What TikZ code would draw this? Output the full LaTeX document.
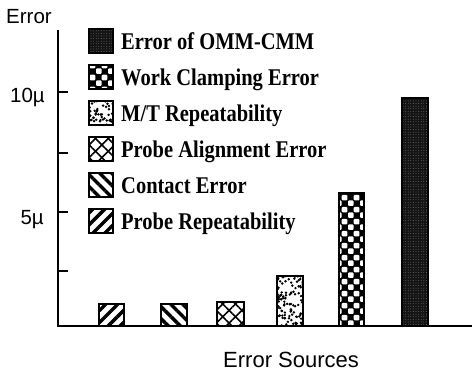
\documentclass[tikz,border=0pt]{standalone}
\usepackage{fontspec}
\setmainfont{Liberation Serif}
\setsansfont{Liberation Sans}
\usetikzlibrary{patterns.meta}

% chequerboard tile: white squares touching at the corners
\tikzdeclarepattern{
  name=chequer,
  type=uncolored,
  bottom left={(0pt,0pt)},
  top right={(12pt,12pt)},
  tile size={(12pt,12pt)},
  code={
    \fill[rounded corners=1.1pt] (0pt,0pt) rectangle (6pt,6pt);
    \fill[rounded corners=1.1pt] (6pt,6pt) rectangle (12pt,12pt);
  }
}

% random black speckles inside a rectangle (x1,y1,x2,y2)
\newcommand\mtspeckle[4]{%
  \begin{scope}
    \clip (#1,#2) rectangle (#3,#4);
    \pgfmathsetseed{4242}
    \pgfmathtruncatemacro\nspk{abs((#3-#1)*(#4-#2))/13}
    \foreach \k in {1,...,\nspk}{
      \fill ({#1+rnd*(#3-#1)},{#2+rnd*(#4-#2)}) circle (1.35);
    }
  \end{scope}}

\tikzset{
  axisline/.style={line width=1.3pt},
  tickline/.style={line width=1.1pt},
  frame/.style={draw=black, line width=1.7pt},
  hatchne/.style={pattern={Lines[angle=45,distance=8.5pt,line width=3.4pt]}},
  hatchnw/.style={pattern={Lines[angle=-45,distance=8.5pt,line width=3.4pt]}},
  crossa/.style={pattern={Lines[angle=45,distance=9pt,line width=1.6pt]}},
  crossb/.style={pattern={Lines[angle=-45,distance=9pt,line width=1.6pt]}},
  darkdots/.style={pattern={Dots[radius=0.35pt,distance=2.6pt]}, pattern color=gray!75},
  axislabel/.style={font=\sffamily\fontsize{20.5}{24}\selectfont, inner sep=0pt},
  keytext/.style={inner sep=0pt, anchor=base west},
}
\newcommand\keyfont[1]{\scalebox{1}[1.17]{\fontsize{20.5}{25}\selectfont\bfseries #1}}

\begin{document}
\begin{tikzpicture}[x=1pt,y=-1pt]
\useasboundingbox (0,0) rectangle (472,374);

% axes
\coordinate (ytop) at (58,30);
\coordinate (org) at (58,326);
\coordinate (xend) at (472,326);
\draw[axisline] (ytop) -- (org) -- (xend);
\foreach \ty in {92,153,212,271}{
  \draw[tickline] (58,\ty) -- (68,\ty);
}

% axis labels
\node[axislabel, anchor=base west] (ylab) at (6,24) {Error};
\node[axislabel, anchor=base east] (ten) at (45,103) {10\textmu};
\node[axislabel, anchor=base east] (five) at (44,225) {5\textmu};
\node[axislabel, anchor=base west, font=\sffamily\fontsize{22}{24}\selectfont] (xlab) at (223,368) {Error Sources};

% bars
% probe repeatability
\draw[frame, hatchne] (99,304) rectangle (124,326);
% contact error
\draw[frame, hatchnw] (161,304) rectangle (187,326);
% probe alignment error
\path[crossa] (217,302) rectangle (244,326);
\draw[frame, crossb] (217,302) rectangle (244,326);
% M/T repeatability
\fill[white] (277,276) rectangle (303,326);
\mtspeckle{277}{276}{303}{326}
\draw[frame] (277,276) rectangle (303,326);
% work clamping error
\fill[black] (339,193) rectangle (364,326);
\draw[frame, pattern=chequer, pattern color=white] (339,193) rectangle (364,326);
% error of OMM-CMM
\fill[black!92] (402,98) rectangle (428,326);
\draw[frame, darkdots] (402,98) rectangle (428,326);

% legend swatches
\fill[black!92] (89,29) rectangle (113,53);
\draw[frame, darkdots] (89,29) rectangle (113,53);
\fill[black] (89,65) rectangle (113,89);
\draw[frame, pattern=chequer, pattern color=white] (89,65) rectangle (113,89);
\fill[white] (89,101) rectangle (113,125);
\mtspeckle{89}{101}{113}{125}
\draw[frame] (89,101) rectangle (113,125);
\path[crossa] (89,137) rectangle (113,161);
\draw[frame, crossb] (89,137) rectangle (113,161);
\draw[frame, hatchnw] (89,173) rectangle (113,197);
\draw[frame, hatchne] (89,209) rectangle (113,233);

% legend texts
\node[keytext] (k1) at (121,49.5) {\keyfont{Error of OMM-CMM}};
\node[keytext] (k2) at (121,85.5) {\keyfont{Work Clamping Error}};
\node[keytext] (k3) at (121,121.5) {\keyfont{M/T Repeatability}};
\node[keytext] (k4) at (121,157.5) {\keyfont{Probe Alignment Error}};
\node[keytext] (k5) at (121,193.5) {\keyfont{Contact Error}};
\node[keytext] (k6) at (121,229.5) {\keyfont{Probe Repeatability}};
\end{tikzpicture}
\end{document}
